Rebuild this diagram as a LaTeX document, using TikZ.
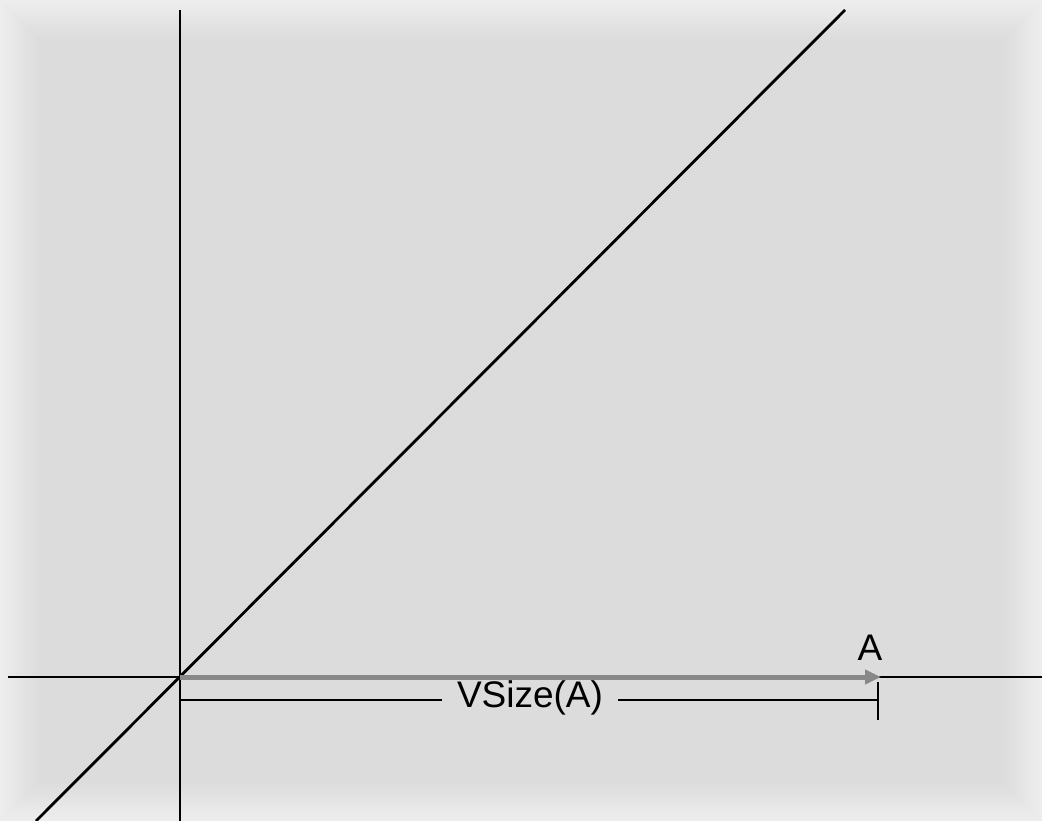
\documentclass[tikz,border=0pt]{standalone}
\usepackage{fontspec}
\setmainfont{Liberation Sans}
\usetikzlibrary{arrows.meta}
\definecolor{bgc}{HTML}{DCDCDC}
\definecolor{edgec}{HTML}{EEEEEE}
\definecolor{arrowgray}{HTML}{888888}
\tikzset{
  axis/.style={black, line width=2.8pt},
  vecline/.style={arrowgray, line width=5pt, -{Triangle[length=16pt,width=14pt]}},
  dimline/.style={black, line width=2.8pt},
  lbl/.style={font=\fontsize{37}{40}\selectfont, inner sep=0pt, text=black}
}
\begin{document}
\begin{tikzpicture}[x=1pt,y=-1pt]
\useasboundingbox (0,0) rectangle (1042,821);
\begin{scope}
\clip (0,0) rectangle (1042,821);
\fill[bgc] (0,0) rectangle (1042,821);
\foreach \i in {20,19,...,1}{
  \pgfmathtruncatemacro{\pct}{100-5*\i}
  \draw[edgec!\pct!bgc, line width=4*\i pt] (0,0) rectangle (1042,821);
}
\end{scope}
% coordinates
\coordinate (O) at (180,677);
\coordinate (ytop) at (180,10);
\coordinate (ybot) at (180,821);
\coordinate (xleft) at (8,677);
\coordinate (xright) at (1042,677);
\coordinate (dtop) at (845,10);
\coordinate (dbot) at (36,821);
\coordinate (Aend) at (881,677);
\coordinate (dimL) at (180,700);
\coordinate (dimR) at (878,700);
\coordinate (tickT) at (878,682);
\coordinate (tickB) at (878,720);
% axes
\draw[axis] (ytop) -- (ybot);
\draw[axis] (xleft) -- (xright);
\draw[axis] (dbot) -- (dtop);
% vector A
\draw[vecline] (O) -- (Aend);
\node[lbl] (Alab) at (870,648) {A};
% dimension line
\node[lbl, inner xsep=15pt] (vs) at (530,698) {VSize(A)};
\draw[dimline] (dimL) -- (vs.west |- dimL);
\draw[dimline] (vs.east |- dimR) -- (dimR);
\draw[dimline] (tickT) -- (tickB);
\end{tikzpicture}
\end{document}
